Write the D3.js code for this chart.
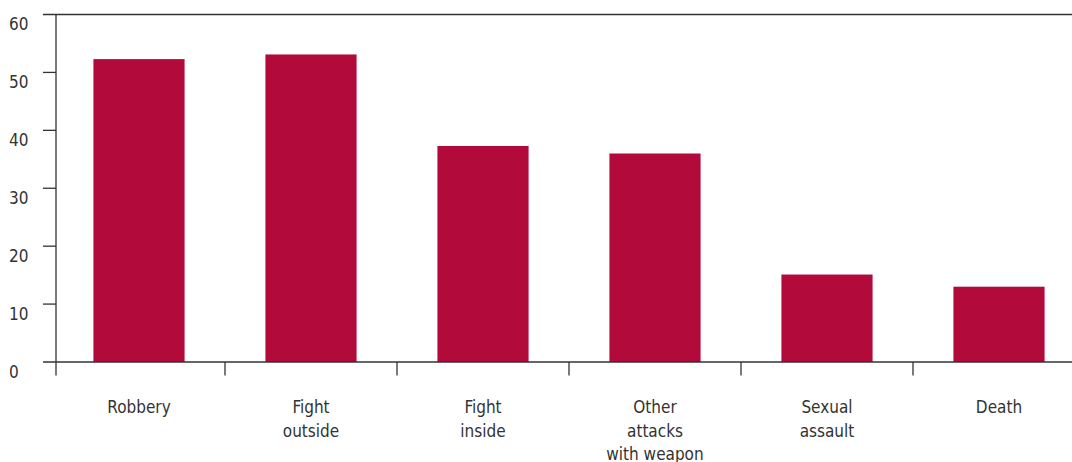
<!DOCTYPE html>
<html>
<head>
<meta charset="utf-8">
<script src="https://cdn.jsdelivr.net/npm/d3@7"></script>
<style>
  html, body { margin: 0; padding: 0; background: #fff; }
  svg { display: block; }
  text { font-family: "DejaVu Sans", sans-serif; font-stretch: condensed; fill: #333; font-size: 17px; }
</style>
</head>
<body>
<svg id="chart" width="1072" height="462"></svg>
<script>
// Incident types and their values
const categories = [
  ["Robbery"],
  ["Fight", "outside"],
  ["Fight", "inside"],
  ["Other", "attacks", "with weapon"],
  ["Sexual", "assault"],
  ["Death"]
];
const values = [52.3, 53.1, 37.3, 36.0, 15.1, 13.0];
const yTicks = [0, 10, 20, 30, 40, 50, 60];

const keys = categories.map(c => c.join(" "));
const data = keys.map((k, i) => ({ key: k, lines: categories[i], value: values[i] }));

const svg = d3.select("#chart");
const W = 1072;
const axisX = 56, tickLeft = 43;

const y = d3.scaleLinear().domain([0, 60]).range([362, 14.5]);
const x = d3.scaleBand().domain(keys).range([53, 1085])
  .paddingInner(0.47).paddingOuter(0.235);
const step = x.step();

const ink = "#333";

// Top frame line at 60
svg.append("line")
  .attr("x1", tickLeft).attr("x2", W)
  .attr("y1", y(60)).attr("y2", y(60))
  .attr("stroke", ink).attr("stroke-width", 1.3);

// Bars
svg.selectAll("rect.bar").data(data).join("rect")
  .attr("class", "bar")
  .attr("x", d => x(d.key))
  .attr("width", x.bandwidth())
  .attr("y", d => y(d.value))
  .attr("height", d => y(0) - y(d.value))
  .attr("fill", "#b10a3b");

// Baseline at 0
svg.append("line")
  .attr("x1", tickLeft).attr("x2", W)
  .attr("y1", y(0)).attr("y2", y(0))
  .attr("stroke", ink).attr("stroke-width", 1.3);

// Vertical axis line, running a tick length below the baseline
svg.append("line")
  .attr("x1", axisX).attr("x2", axisX)
  .attr("y1", y(60)).attr("y2", y(0) + 13.5)
  .attr("stroke", ink).attr("stroke-width", 1.3);

// Y ticks and labels
const yt = svg.append("g");
yt.selectAll("line").data(yTicks.filter(t => t !== 0 && t !== 60)).join("line")
  .attr("x1", tickLeft).attr("x2", axisX)
  .attr("y1", d => y(d)).attr("y2", d => y(d))
  .attr("stroke", ink).attr("stroke-width", 1.3);
yt.selectAll("text").data(yTicks).join("text")
  .attr("x", 9)
  .attr("y", d => y(d) + 15.5)
  .text(d => d);

// Category separators below the baseline
const seps = keys.slice(1).map(k => x(k) - step * x.paddingInner() / 2);
svg.append("g").selectAll("line").data(seps).join("line")
  .attr("x1", d => d).attr("x2", d => d)
  .attr("y1", y(0)).attr("y2", y(0) + 13.5)
  .attr("stroke", ink).attr("stroke-width", 1.3);

// Category labels
const lab = svg.append("g").selectAll("text").data(data).join("text")
  .attr("text-anchor", "middle")
  .attr("x", d => x(d.key) + x.bandwidth() / 2)
  .attr("y", 413);
lab.selectAll("tspan").data(d => d.lines.map((t, i) => ({ t, i, cx: x(d.key) + x.bandwidth() / 2 })))
  .join("tspan")
  .attr("x", d => d.cx)
  .attr("dy", d => d.i === 0 ? 0 : 23.5)
  .text(d => d.t);
</script>
</body>
</html>
